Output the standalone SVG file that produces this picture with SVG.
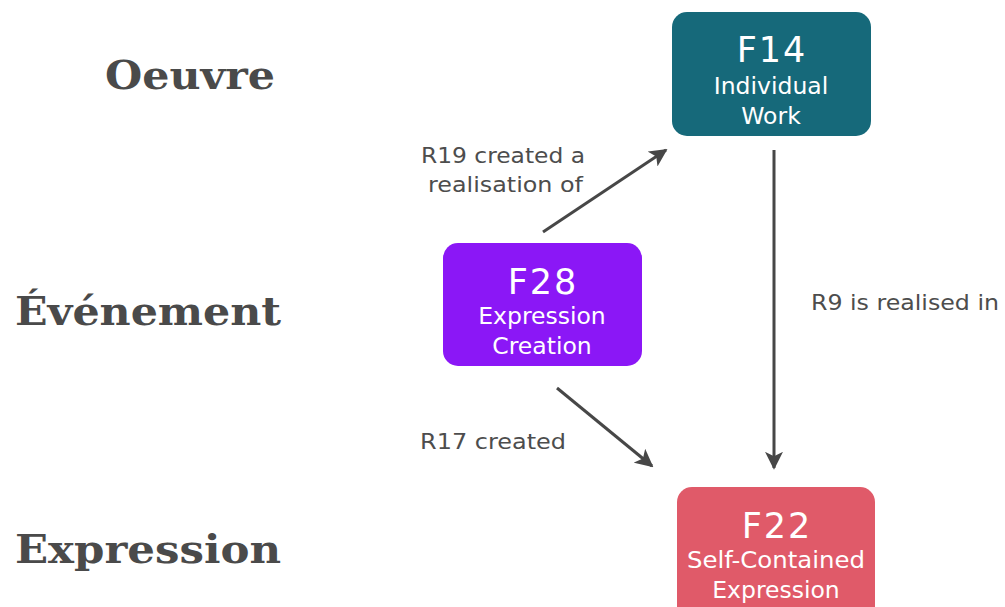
<svg xmlns="http://www.w3.org/2000/svg" width="1005" height="607" viewBox="0 0 1005 607">
<defs>
<style>
.lvl{font-family:"DejaVu Serif","Liberation Serif",serif;font-weight:bold;font-size:40px;fill:#4a4a4a}
.nt{font-family:"DejaVu Sans","Liberation Sans",sans-serif;fill:#ffffff;text-anchor:middle}
.big{font-size:35px;letter-spacing:2px}
.sub{font-size:23.5px}
.lbl{font-family:"DejaVu Sans","Liberation Sans",sans-serif;font-size:22px;fill:#4d4d4d}
.edge{stroke:#474747;stroke-width:3;fill:none;marker-end:url(#arr)}
</style>
<marker id="arr" viewBox="0 0 10 10" refX="9" refY="5" markerWidth="6" markerHeight="6" orient="auto" markerUnits="strokeWidth">
<path d="M0,0 L10,5 L0,10 L2.5,5 Z" fill="#474747"/>
</marker>
</defs>
<rect width="1005" height="607" fill="#ffffff"/>
<g id="levels">
<text class="lvl" x="105" y="89" textLength="170" lengthAdjust="spacingAndGlyphs">Oeuvre</text>
<text class="lvl" x="15" y="325" textLength="266" lengthAdjust="spacingAndGlyphs">Événement</text>
<text class="lvl" x="15" y="563" textLength="266" lengthAdjust="spacingAndGlyphs">Expression</text>
</g>
<g id="connectors">
<line class="edge" x1="543" y1="232" x2="666" y2="150"/>
<line class="edge" x1="774" y1="150" x2="774" y2="468"/>
<line class="edge" x1="557" y1="388" x2="652" y2="466"/>
<text class="lbl" x="421" y="163" textLength="164" lengthAdjust="spacingAndGlyphs">R19 created a</text>
<text class="lbl" x="428" y="192" textLength="155" lengthAdjust="spacingAndGlyphs">realisation of</text>
<text class="lbl" x="811" y="310" textLength="188" lengthAdjust="spacingAndGlyphs">R9 is realised in</text>
<text class="lbl" x="420" y="449" textLength="146" lengthAdjust="spacingAndGlyphs">R17 created</text>
</g>
<g id="F14">
<rect x="672" y="12" width="199" height="124" rx="15" fill="#16697a"/>
<text class="nt big" x="772" y="62">F14</text>
<text class="nt sub" x="771" y="94">Individual</text>
<text class="nt sub" x="771" y="124">Work</text>
</g>
<g id="F28">
<rect x="443" y="243" width="199" height="123" rx="15" fill="#8b17f6"/>
<text class="nt big" x="543" y="294">F28</text>
<text class="nt sub" x="542" y="324">Expression</text>
<text class="nt sub" x="542" y="354">Creation</text>
</g>
<g id="F22">
<rect x="677" y="487" width="198" height="135" rx="15" fill="#e05a69"/>
<text class="nt big" x="777" y="538">F22</text>
<text class="nt sub" x="776" y="568" textLength="178" lengthAdjust="spacingAndGlyphs">Self-Contained</text>
<text class="nt sub" x="776" y="598">Expression</text>
</g>
</svg>
